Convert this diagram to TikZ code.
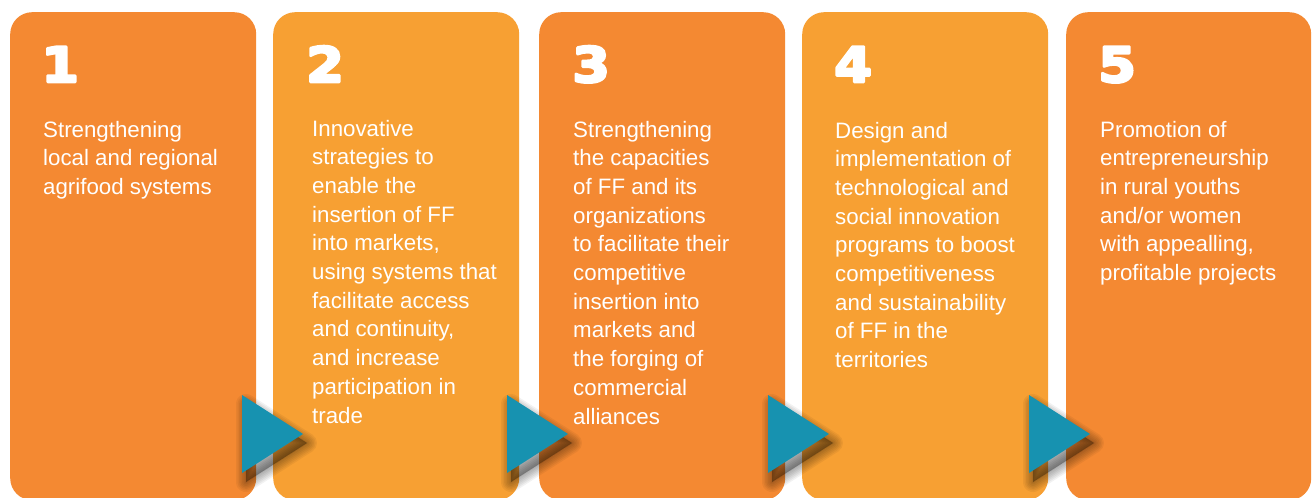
\documentclass[tikz,border=0pt]{standalone}
\usepackage{fontspec}
\setmainfont{Liberation Sans}
\newfontfamily\numfont{DejaVu Sans}[UprightFont=* Bold,FakeStretch=1.12]
% heavier digits: fill and stroke the glyph outlines in white
\newcommand{\heavy}[1]{\special{pdf:code q 2 Tr 2.6 w 1 1 1 RG 1 j}#1\special{pdf:code Q}}
\definecolor{panelA}{RGB}{244,137,50}
\definecolor{panelB}{RGB}{247,160,51}
\definecolor{arrowteal}{RGB}{23,146,176}

\tikzset{
  panel/.style={rectangle, rounded corners=22pt, minimum width=246pt,
    minimum height=488pt, anchor=north west, inner sep=0pt, draw=none},
  num/.style={anchor=base west, inner sep=0pt, text=white,
    font=\numfont\fontsize{48.5}{50}\selectfont},
  body/.style={anchor=base west, inner sep=0pt, text=white,
    font=\fontsize{22.3}{28.7}\selectfont},
  pointer/.style={fill=arrowteal},
}

% soft drop shadow under a pointer triangle whose left edge is at x = #1
\newcommand{\pointershadow}[1]{%
  \foreach \w in {20,17,14,11,8,5,2}{%
    \filldraw[black, opacity=0.05, line width=\w pt, line join=round]
      (#1+4,404) -- (#1+4,482) -- (#1+65,443) -- cycle;
  }%
}
\newcommand{\pointer}[1]{%
  \fill[pointer] (#1,395) -- (#1,473) -- (#1+61,434) -- cycle;
}

\begin{document}
\begin{tikzpicture}[x=1pt,y=-1pt]
  \useasboundingbox[fill=white] (0,0) rectangle (1312,498);

  % panels
  \node[panel, fill=panelA] (p1) at (10,12) {};
  \node[panel, fill=panelB] (p2) at (273,12) {};
  \node[panel, fill=panelA] (p3) at (539,12) {};
  \node[panel, fill=panelB] (p4) at (802,12) {};
  \node[panel, fill=panelA, minimum width=245pt] (p5) at (1066,12) {};

  % step numbers
  \node[num] (n1) at (41,82) {\heavy{1}};
  \node[num] (n2) at (306,82) {\heavy{2}};
  \node[num] (n3) at (572,82) {\heavy{3}};
  \node[num] (n4) at (834,82) {\heavy{4}};
  \node[num] (n5) at (1098,82) {\heavy{5}};

  % descriptions
  \node[body] (t1) at (43,137) {\parbox[t]{220pt}{\raggedright
    Strengthening\\local and regional\\agrifood systems}};
  \node[body] (t2) at (312,136) {\parbox[t]{220pt}{\raggedright
    Innovative\\strategies to\\enable the\\insertion of FF\\into markets,\\
    using systems that\\facilitate access\\and continuity,\\and increase\\
    participation in\\trade}};
  \node[body] (t3) at (573,137) {\parbox[t]{220pt}{\raggedright
    Strengthening\\the capacities\\of FF and its\\organizations\\
    to facilitate their\\competitive\\insertion into\\markets and\\
    the forging of\\commercial\\alliances}};
  \node[body] (t4) at (835,138) {\parbox[t]{220pt}{\raggedright
    Design and\\implementation of\\technological and\\social innovation\\
    programs to boost\\competitiveness\\and sustainability\\of FF in the\\
    territories}};
  \node[body] (t5) at (1100,137) {\parbox[t]{220pt}{\raggedright
    Promotion of\\entrepreneurship\\in rural youths\\and/or women\\
    with appealling,\\profitable projects}};

  % pointers between panels
  \pointershadow{242}\pointershadow{507}\pointershadow{768}\pointershadow{1029}
  \pointer{242}\pointer{507}\pointer{768}\pointer{1029}
\end{tikzpicture}
\end{document}
